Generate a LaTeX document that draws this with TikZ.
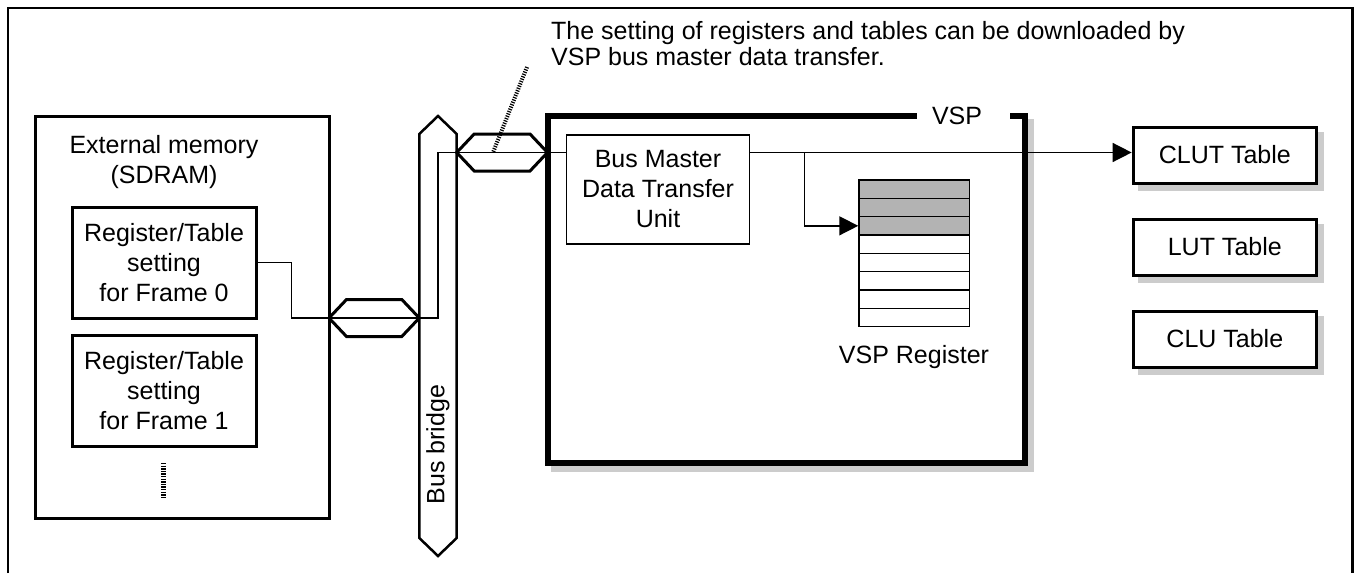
\documentclass[tikz,border=0pt]{standalone}
\usepackage{fontspec}
\setmainfont{Liberation Sans}
\usetikzlibrary{arrows.meta,backgrounds}
\definecolor{shadowgray}{RGB}{204,204,204}
\definecolor{reggray}{RGB}{179,179,179}
\begin{document}
\begin{tikzpicture}[x=1pt,y=-1pt,
  every node/.style={font=\fontsize{25}{30}\selectfont, inner sep=0pt},
  membox/.style={draw, line width=3pt, fill=white, minimum width=294pt, minimum height=401.3pt},
  framebox/.style={draw, line width=3pt, fill=white, minimum width=184pt, minimum height=111pt, align=center},
  tablebox/.style={draw, line width=3pt, fill=white, minimum width=183.3pt, minimum height=56pt},
  vspbox/.style={draw, line width=6pt, fill=white, minimum width=477pt, minimum height=347pt},
  unitbox/.style={draw, line width=1.5pt, fill=white, minimum width=182.6pt, minimum height=109pt, align=center},
  regrow/.style={draw, line width=1.5pt, fill=white, minimum width=110.3pt, minimum height=18.33pt},
  greyrow/.style={regrow, fill=reggray},
  thinline/.style={line width=1.5pt},
  hexline/.style={line width=3pt, line join=miter},
  busline/.style={line width=2.5pt, line join=miter},
  arrowline/.style={thinline, -{Triangle[length=19pt,width=19pt]}},
  calloutdots/.style={line width=4pt, dash pattern=on 1.2pt off 1.3pt},
  moredots/.style={line width=5pt, dash pattern=on 1.3pt off 1.3pt},
  shade/.style={fill=shadowgray, draw=none}
]
\useasboundingbox (0,0) rectangle (1354,573);

% outer frame (open at the bottom)
\coordinate (fr1) at (8,573);
\coordinate (fr2) at (8,8);
\coordinate (fr3) at (1352.5,8);
\coordinate (fr4) at (1352.5,573);
\draw[line width=2.5pt, line join=miter] (fr1) -- (fr2) -- (fr3) -- (fr4);

% callout text
\node[anchor=base west, align=left, font=\fontsize{25}{26.5}\selectfont] (note) at (551,65.5)
  {The setting of registers and tables can be downloaded by\\VSP bus master data transfer.};

% external memory
\node[membox] (mem) at (182,317.35) {};
\node[align=center] (memlbl) at (164,162.5) {External memory\\(SDRAM)};
\node[framebox] (f0) at (164,262.5) {Register/Table\\setting\\for Frame 0};
\node[framebox] (f1) at (164,391) {Register/Table\\setting\\for Frame 1};
\coordinate (dt1) at (163,463);
\coordinate (dt2) at (163,499);
\draw[moredots] (dt1) -- (dt2);

% bus bridge
\coordinate (bt) at (438,116);
\coordinate (bb) at (438,556);
\draw[busline] (419.3,134) -- (bt) -- (456.7,134) -- (456.7,538) -- (bb) -- (419.3,538) -- cycle;
\node[rotate=90] (buslbl) at (438,444.5) {Bus bridge};

% VSP block
\node[vspbox] (vsp) at (786,289.5) {};
\begin{scope}[on background layer]
  \fill[shade] ([shift={(6,6)}]vsp.north west) rectangle ([shift={(6,6)}]vsp.south east);
\end{scope}
\node[fill=white, minimum width=93pt, minimum height=12pt] (vspgap) at (963.5,116) {};
\node (vsplbl) at (957,116) {VSP};

\node[unitbox] (bmdtu) at (658,189.5) {Bus Master\\Data Transfer\\Unit};

% VSP register stack
\node[greyrow] (r1) at (914.15,189.17) {};
\node[greyrow] (r2) at (914.15,207.5) {};
\node[greyrow] (r3) at (914.15,225.83) {};
\node[regrow] (r4) at (914.15,244.17) {};
\node[regrow] (r5) at (914.15,262.5) {};
\node[regrow] (r6) at (914.15,280.83) {};
\node[regrow] (r7) at (914.15,299.17) {};
\node[regrow] (r8) at (914.15,317.5) {};
\node (reglbl) at (914,357.5) {VSP Register};

% tables
\node[tablebox] (clut) at (1224.8,155) {CLUT Table};
\node[tablebox] (lut) at (1224.8,247) {LUT Table};
\node[tablebox] (clu) at (1224.8,339) {CLU Table};
\begin{scope}[on background layer]
  \foreach \t in {clut,lut,clu}
    \fill[shade] ([shift={(6,6)}]\t.north west) rectangle ([shift={(6,6)}]\t.south east);
\end{scope}

% bus connectors (hexagons)
\coordinate (hl1) at (329,318);
\coordinate (hl2) at (419.3,318);
\coordinate (hu1) at (456.7,152.5);
\coordinate (hu2) at (547.5,152.5);
\draw[hexline] (hl1) -- ([shift={(17.5,-18.5)}]hl1) -- ([shift={(-17.5,-18.5)}]hl2) -- (hl2)
  -- ([shift={(-17.5,18.5)}]hl2) -- ([shift={(17.5,18.5)}]hl1) -- cycle;
\draw[hexline] (hu1) -- ([shift={(17.5,-18.5)}]hu1) -- ([shift={(-17.5,-18.5)}]hu2) -- (hu2)
  -- ([shift={(-17.5,18.5)}]hu2) -- ([shift={(17.5,18.5)}]hu1) -- cycle;

% data path
\coordinate (j1) at (291.7,318);
\coordinate (j2) at (438,318);
\coordinate (j3) at (438,152.5);
\draw[thinline] (f0.east) -| (j1) -- (j2) -- (j3) -- (bmdtu.west |- j3);
\coordinate (br) at (804.3,152.5);
\draw[arrowline] (bmdtu.east |- j3) -- (clut.west |- j3);
\draw[arrowline] (br) |- (r3.west);

% callout pointer
\coordinate (co1) at (527,67);
\coordinate (co2) at (493,152.5);
\draw[calloutdots] (co1) -- (co2);
\end{tikzpicture}
\end{document}
